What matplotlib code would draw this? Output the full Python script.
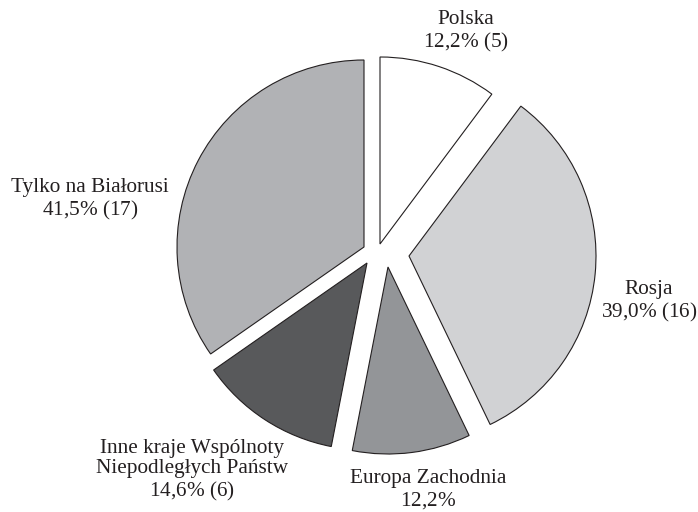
import matplotlib
matplotlib.use('Agg')
import matplotlib.pyplot as plt

plt.rcParams['font.family'] = 'Liberation Serif'
plt.rcParams['mathtext.fontset'] = 'custom'
plt.rcParams['mathtext.it'] = 'Liberation Serif:italic'
plt.rcParams['mathtext.rm'] = 'Liberation Serif'

# Data (clockwise from the top)
names = ["Polska", "Rosja", "Europa Zachodnia",
         "Inne kraje Wspólnoty\nNiepodległych Państw", "Tylko na Białorusi"]
counts = [5, 16, 5, 6, 17]
pct_labels = ["12,2", "39,0", "12,2", "14,6", "41,5"]
show_count = [True, True, False, True, True]

colors = ["#ffffff", "#d1d2d4", "#939598", "#58595b", "#b1b2b5"]
ink = "#231f20"

# per-slice shift (pixels, y up) - the original explodes slices by hand
shifts = [(3, 10), (32, -2), (11, -13), (-10, -9), (-13, 7)]
# label anchor (pixels from top-left)
label_pos = [(466, 32), (649, 302), (428, 490), (192, 471), (90, 200)]

W, H = 698, 512
fig = plt.figure(figsize=(W / 100, H / 100), dpi=100)
ax = fig.add_axes([0, 0, 1, 1])

cx, cy, R = 377, H - 254, 187
wedges, _ = ax.pie(counts, colors=colors, startangle=90, counterclock=False,
                   radius=R, center=(cx, cy), frame=True,
                   wedgeprops=dict(edgecolor=ink, linewidth=0.8))
for w, (dx, dy) in zip(wedges, shifts):
    w.set_center((cx + dx, cy + dy))

ax.set_xlim(0, W)
ax.set_ylim(0, H)
ax.set_aspect('equal')
ax.axis('off')

for name, n, p, sc, (lx, ly) in zip(names, counts, pct_labels, show_count, label_pos):
    txt = name + "\n" + p + r"$\it{\%}$"
    if sc:
        txt += " (%d)" % n
    ax.text(lx, H - ly, txt, ha='center', va='center', fontsize=15.3,
            color=ink, linespacing=1.12)

fig.savefig("out.png", dpi=100)
